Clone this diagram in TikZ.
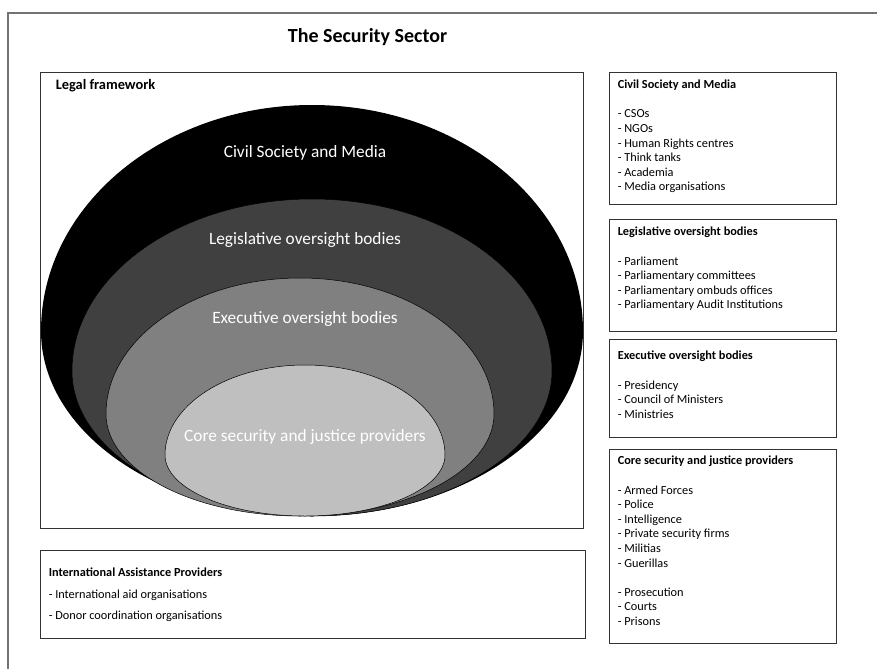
\documentclass[tikz,border=0pt]{standalone}
\usepackage{fontspec}
\setmainfont{Carlito}
\usepackage{tikz}
\usetikzlibrary{positioning}
\colorlet{RingDark}{black!75}
\colorlet{RingMid}{black!50}
\colorlet{RingLight}{black!25}
\tikzset{
  frameline/.style={draw=black!55, line width=1.4pt},
  infobox/.style={draw=black!80, line width=0.9pt, inner sep=0pt},
  boxtext/.style={align=left, inner sep=0pt, font=\fontsize{12.3}{14.6}\selectfont},
  ringlabel/.style={text=white, inner sep=0pt, font=\fontsize{17.3}{20}\selectfont},
  ringline/.style={draw=black, line width=0.5pt}
}

\begin{document}
\begin{tikzpicture}[x=1pt, y=-1pt]
        \useasboundingbox (0,0) rectangle (877,669);

        % outer frame
        \coordinate (framecorner) at (8,13);
        \coordinate (frameright) at (877,13);
        \coordinate (framebottom) at (8,669);
        \draw[frameline] (frameright) -- (framecorner) -- (framebottom);
        \node[font=\bfseries\fontsize{20}{24}\selectfont, inner sep=0pt] (title) at (367.5,37) {The Security Sector};

        % legal framework with the rings
        \node[infobox, minimum width=543pt, minimum height=456pt] (legalbox) at (311.5,300) {};
        \node[font=\bfseries\fontsize{14.4}{17}\selectfont, inner sep=0pt, below right=7.8pt and 16pt of legalbox.north west] (legaltext) {Legal framework};

        \fill[black] (583,331) arc[start angle=0, end angle=180, x radius=271pt, y radius=226pt]
                              arc[start angle=180, end angle=360, x radius=271pt, y radius=185pt] -- cycle;
        \filldraw[fill=RingDark, ringline] (552,371) arc[start angle=0, end angle=180, x radius=240pt, y radius=172pt]
                              arc[start angle=180, end angle=360, x radius=240pt, y radius=145pt] -- cycle;
        \filldraw[fill=RingMid, ringline] (494,414) arc[start angle=0, end angle=180, x radius=194pt, y radius=136pt]
                              arc[start angle=180, end angle=360, x radius=194pt, y radius=102pt] -- cycle;
        \filldraw[fill=RingLight, ringline] (445,455) arc[start angle=0, end angle=180, x radius=140pt, y radius=90pt]
                              arc[start angle=180, end angle=360, x radius=140pt, y radius=61pt] -- cycle;

        \node[ringlabel] (civillabel) at (305,153) {Civil Society and Media};
        \node[ringlabel] (legislabel) at (305,240) {Legislative oversight bodies};
        \node[ringlabel] (execlabel) at (305,319) {Executive oversight bodies};
        \node[ringlabel] (corelabel) at (305,437) {Core security and justice providers};

        % boxes on the right
        \node[infobox, minimum width=227pt, minimum height=132pt] (civilbox) at (722.5,138) {};
        \node[boxtext, below right=8.4pt and 9pt of civilbox.north west] (civiltext) {\textbf{Civil Society and Media}\\[14.6pt]
          - CSOs\\ - NGOs\\ - Human Rights centres\\ - Think tanks\\ - Academia\\ - Media organisations};

        \node[infobox, minimum width=227pt, minimum height=112pt] (legisbox) at (722.5,275) {};
        \node[boxtext, below right=8.4pt and 9pt of legisbox.north west] (legistext) {\textbf{Legislative oversight bodies}\\[14.6pt]
          - Parliament\\ - Parliamentary committees\\ - Parliamentary ombuds offices\\ - Parliamentary Audit Institutions};

        \node[infobox, minimum width=227pt, minimum height=98pt] (execbox) at (722.5,388) {};
        \node[boxtext, below right=12.4pt and 9pt of execbox.north west] (exectext) {\textbf{Executive oversight bodies}\\[14.6pt]
          - Presidency\\ - Council of Ministers\\ - Ministries};

        \node[infobox, minimum width=227pt, minimum height=194pt] (corebox) at (722.5,546) {};
        \node[boxtext, below right=7.4pt and 9pt of corebox.north west] (coretext) {\textbf{Core security and justice providers}\\[14.6pt]
          - Armed Forces\\ - Police\\ - Intelligence\\ - Private security firms\\ - Militias\\ - Guerillas\\[14.6pt]
          - Prosecution\\ - Courts\\ - Prisons};

        % international providers
        \node[infobox, minimum width=545pt, minimum height=88pt] (intlbox) at (312.5,594) {};
        \node[boxtext, font=\fontsize{12.3}{21.5}\selectfont, below right=18.4pt and 9pt of intlbox.north west] (intltext) {\textbf{International Assistance Providers}\\
          - International aid organisations\\ - Donor coordination organisations};
\end{tikzpicture}
\end{document}
